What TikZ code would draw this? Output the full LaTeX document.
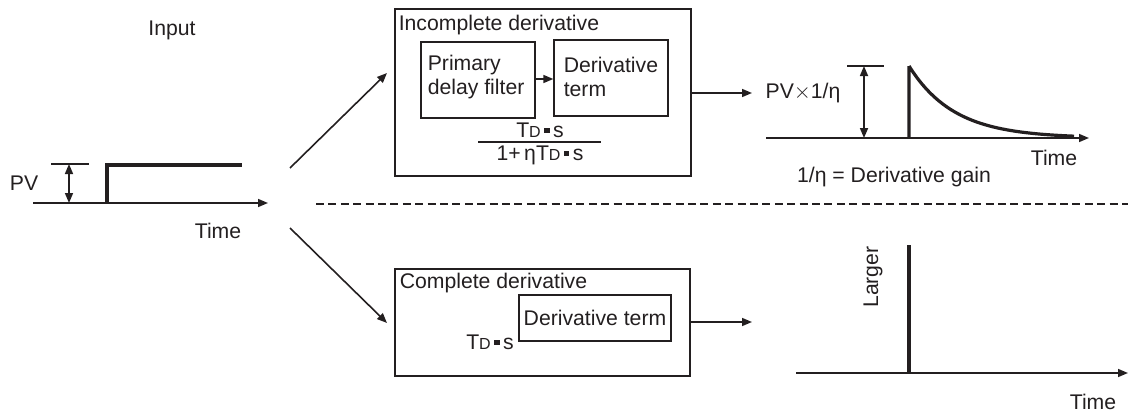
\documentclass[tikz,border=0pt]{standalone}
\usepackage{fontspec}
\setmainfont{Liberation Sans}
\usepackage{tikz}
\usetikzlibrary{arrows.meta, positioning}
\definecolor{ink}{HTML}{231F20}
\newcommand{\tds}{T{\footnotesize D}\,\rule[0.2em]{0.25em}{0.25em}\,s}

\begin{document}
\begin{tikzpicture} [x=0.5pt, y=-0.5pt, ink, line width=0.8pt,
        font=\fontsize{10.6}{12.4}\selectfont,
        box/.style = {draw, line width=0.7pt, inner sep=0pt},
        txt/.style = {inner sep=0pt},
        arr/.style = {-{Triangle[length=5pt, width=4pt]}},
        dim/.style = {{Triangle[length=5pt, width=4pt]}-{Triangle[length=5pt, width=4pt]}},
        sig/.style = {line width=1.6pt}]
        \useasboundingbox (0,0) rectangle (1128,412);

        % input step
        \node (inp) [txt] at (172,30) {Input};
        \node (pv) [txt] at (24,183) {PV};
        \node (t0) [txt] at (218,231) {Time};
        \draw [arr] (33,203) -- (268,203);
        \draw [sig] (107,203) -- (107,165) -- (242,165);
        \draw (51,164) -- (89,164);
        \draw [dim] (69,164) -- (69,203);

        % incomplete derivative
        \node (inc) [box, minimum width=148pt, minimum height=83.5pt] at (543,92.5) {};
        \node (inct) [txt, anchor=west] at (398,25) {Incomplete derivative};
        \node (flt) [box, minimum width=57pt, minimum height=38pt] at (478,80) {};
        \node [txt, align=left, anchor=west] at (427,77) {Primary\\delay filter};
        \node (drv) [box, minimum width=57pt, minimum height=38pt] at (611,78) {};
        \node [txt, align=left, anchor=west] at (563,77) {Derivative\\term};
        \draw [arr] (flt.east |- 0,79) -- (drv.west |- 0,79);
        \node (num) [txt] at (540,130) {\tds};
        \draw (478,142) -- (601,142);
        \node (den) [txt] at (540,155) {1+\,η\tds};

        % complete derivative
        \node (cpl) [box, minimum width=147.5pt, minimum height=53.5pt] at (542.5,322.5) {};
        \node (cplt) [txt, anchor=west] at (399,283) {Complete derivative};
        \node (drv2) [box, minimum width=76pt, minimum height=23pt] at (595,318) {Derivative term};
        \node (tds2) [txt] at (490,342) {\tds};

        % connectors
        \coordinate (split1) at (290,168);
        \coordinate (split2) at (290,228);
        \coordinate (in1) at (387,73);
        \coordinate (in2) at (387,323);
        \coordinate (out1) at (752,93);
        \coordinate (out2) at (752,322);
        \draw [arr] (split1) -- (in1);
        \draw [arr] (split2) -- (in2);
        \draw [arr] (inc.east |- out1) -- (out1);
        \draw [arr] (cpl.east |- out2) -- (out2);
        \draw [dash pattern=on 4pt off 2.2pt] (316,204) -- (1128,204);

        % incomplete response
        \node (gain) [txt] at (803,93) {PV$\times$1/η};
        \draw [arr] (766,138) -- (1089,138);
        \draw (847,66) -- (884,66);
        \draw [dim] (864,66) -- (864,138);
        \draw [sig] (909,138) -- (909,66)
            plot [domain=0:165, samples=40] ({909+\x},{138-72*exp(-\x/45)});
        \node (t1) [txt] at (1054,158) {Time};
        \node (eta) [txt] at (894,177) {1/η = Derivative gain};

        % complete response
        \draw [arr] (796,373) -- (1128,373);
        \draw [sig] (909,373) -- (909,245);
        \node (lrg) [txt, rotate=90] at (873,277) {Larger};
        \node (t2) [txt] at (1093,402) {Time};
    \end{tikzpicture}
\end{document}
